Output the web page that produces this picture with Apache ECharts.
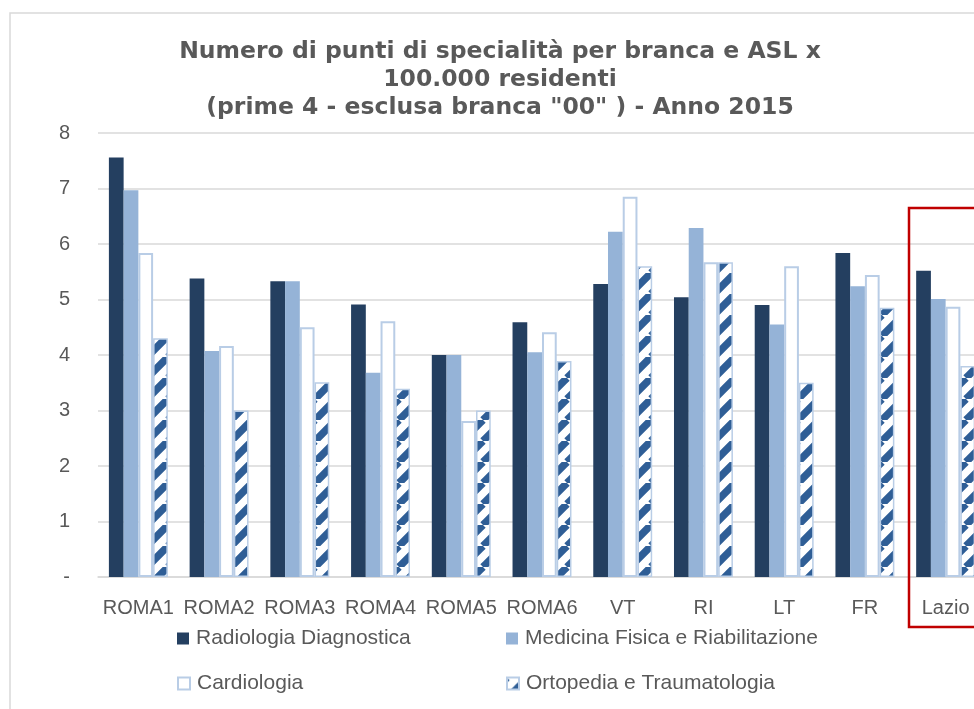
<!DOCTYPE html>
<html>
<head>
<meta charset="utf-8">
<script src="https://cdn.jsdelivr.net/npm/echarts@6/dist/echarts.min.js"></script>
<style>
  html, body { margin: 0; padding: 0; background: #fff; overflow: hidden; }
  #chart { width: 1000px; height: 709px; }
</style>
</head>
<body>
<div id="chart"></div>
<script>
var categories = ['ROMA1', 'ROMA2', 'ROMA3', 'ROMA4', 'ROMA5', 'ROMA6', 'VT', 'RI', 'LT', 'FR', 'Lazio']
var radiologia = [7.56, 5.38, 5.33, 4.91, 4.00, 4.59, 5.28, 5.04, 4.90, 5.84, 5.52]
var medicina = [6.97, 4.07, 5.33, 3.68, 4.00, 4.05, 6.22, 6.29, 4.55, 5.24, 5.01]
var cardiologia = [5.84, 4.16, 4.50, 4.61, 2.81, 4.41, 6.85, 5.67, 5.60, 5.44, 4.87]
var ortopedia = [4.30, 3.00, 3.51, 3.39, 3.00, 3.89, 5.60, 5.67, 3.50, 4.85, 3.80]
var seriesNames = ['Radiologia Diagnostica', 'Medicina Fisica e Riabilitazione', 'Cardiologia', 'Ortopedia e Traumatologia']

var font = 'Liberation Sans'
var grey = '#595959'

// striped fill for the ortopedia bars
function stripes() {
  var s = 21
  var c = document.createElement('canvas')
  c.width = s; c.height = s
  var ctx = c.getContext('2d')
  ctx.fillStyle = '#fff'
  ctx.fillRect(0, 0, s, s)
  ctx.strokeStyle = '#2f5e96'
  ctx.lineWidth = 7.5
  ctx.beginPath()
  for (var o of [-s, 0, s]) {
    ctx.moveTo(o, s)
    ctx.lineTo(o + s, 0)
  }
  ctx.stroke()
  return c
}

function legendItem(name, left, top) {
  return {
    data: [name], left: left, top: top, icon: 'rect', padding: 0,
    itemWidth: 12, itemHeight: 12, itemGap: 0,
    textStyle: {fontFamily: font, fontSize: 21, color: grey, padding: [0, 0, 0, 2]}
  }
}

var myChart = echarts.init(document.getElementById('chart'))
myChart.setOption({
  animation: false,
  title: {
    text: 'Numero di punti di specialità per branca e ASL x\n100.000 residenti\n(prime 4 - esclusa branca "00" ) - Anno 2015',
    left: 'center', top: 33,
    textStyle: {fontFamily: 'DejaVu Sans', fontSize: 23.5, fontWeight: 'bold', color: grey, lineHeight: 28}
  },
  legend: [
    legendItem(seriesNames[0], 177, 628),
    legendItem(seriesNames[1], 506, 628),
    legendItem(seriesNames[2], 177, 673),
    legendItem(seriesNames[3], 506, 673)
  ],
  grid: {left: 98, right: 14, top: 133, bottom: 132, containLabel: false, outerBoundsMode: 'none'},
  xAxis: {
    type: 'category', data: categories,
    axisLine: {lineStyle: {color: '#d9d9d9', width: 1.5}},
    axisTick: {show: false},
    axisLabel: {interval: 0, margin: 21, fontFamily: font, fontSize: 20, color: grey}
  },
  yAxis: {
    type: 'value', min: 0, max: 8, interval: 1,
    axisLine: {show: false}, axisTick: {show: false},
    splitLine: {lineStyle: {color: '#d9d9d9', width: 1.5}},
    axisLabel: {
      margin: 28, fontFamily: font, fontSize: 20, color: grey,
      formatter: function (v) { return v === 0 ? '-' : v }
    }
  },
  series: [
    {name: seriesNames[0], type: 'bar', data: radiologia, barGap: 0, barCategoryGap: '27%',
      itemStyle: {color: '#243f60'}},
    {name: seriesNames[1], type: 'bar', data: medicina,
      itemStyle: {color: '#95b3d7'}},
    {name: seriesNames[2], type: 'bar', data: cardiologia,
      itemStyle: {color: '#ffffff', borderColor: '#b9cde6', borderWidth: 2}},
    {name: seriesNames[3], type: 'bar', data: ortopedia,
      itemStyle: {color: {image: stripes(), repeat: 'repeat'}, borderColor: '#b9cde6', borderWidth: 1.5}}
  ],
  graphic: [
    {type: 'rect', silent: true, z: -10,
      shape: {x: 10, y: 13, width: 1200, height: 900},
      style: {fill: 'none', stroke: '#d9d9d9', lineWidth: 1.5}},
    {type: 'rect', silent: true, z: 100,
      shape: {x: 909, y: 208, width: 300, height: 419},
      style: {fill: 'none', stroke: '#c00000', lineWidth: 2.5}}
  ]
})
</script>
</body>
</html>
